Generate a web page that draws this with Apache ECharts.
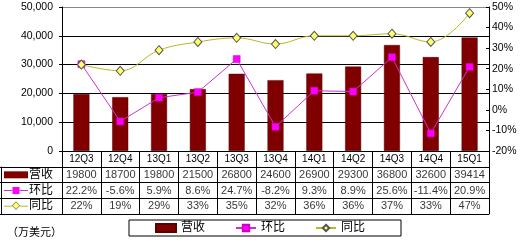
<!DOCTYPE html>
<html><head><meta charset="utf-8">
<script src="https://cdn.jsdelivr.net/npm/echarts@6/dist/echarts.min.js"></script>
<style>html,body{margin:0;padding:0;background:#fff}#c{width:525px;height:241px}</style>
</head><body><div id="c"></div>
<script>
var categories = ['12Q3','12Q4','13Q1','13Q2','13Q3','13Q4','14Q1','14Q2','14Q3','14Q4','15Q1'];
var revenue = [19800,18700,19800,21500,26800,24600,26900,29300,36800,32600,39414];
var qoq = [22.2,-5.6,5.9,8.6,24.7,-8.2,9.3,8.9,25.6,-11.4,20.9];
var yoy = [22,19,29,33,35,32,36,36,37,33,47];
var rowNames = ['营收','环比','同比'];
var leftTicks = [0,10000,20000,30000,40000,50000];

var FF = "'Liberation Sans','Noto Sans CJK SC',sans-serif";
var cells = [];
categories.forEach(function(c,i){
  cells.push({value:[i,'营收'], txt:String(revenue[i])});
  cells.push({value:[i,'环比'], txt:qoq[i].toFixed(1)+'%'});
  cells.push({value:[i,'同比'], txt:yoy[i]+'%'});
});

var chart = echarts.init(document.getElementById('c'), null, {renderer:'canvas'});
chart.setOption({
  animation:false,
  backgroundColor:'#fff',
  title:{text:'（万美元）', left:2, top:222, textStyle:{fontSize:11, fontWeight:'normal', color:'#000', fontFamily:FF}},
  legend:{
    data:[{name:'营收', icon:'rect'},'环比','同比'],
    left:129, top:220, orient:'horizontal',
    padding:[2,36,2,26], itemGap:30, itemWidth:20, itemHeight:8,
    borderColor:'#000', borderWidth:1,
    textStyle:{fontSize:12, color:'#000', fontFamily:FF}
  },
  grid:[
    {left:62, right:36, top:7, height:144},
    {left:62, right:36, top:167, height:47}
  ],
  xAxis:[
    {type:'category', gridIndex:0, data:categories, boundaryGap:true,
     axisLine:{show:true, lineStyle:{color:'#000', width:1}},
     axisTick:{show:true, length:16, inside:false, lineStyle:{color:'#000'}},
     axisLabel:{margin:3, fontSize:10, color:'#000', fontFamily:FF},
     splitLine:{show:false}},
    {type:'category', gridIndex:1, data:categories, boundaryGap:true,
     axisLine:{show:true, lineStyle:{color:'#000'}},
     axisTick:{show:false}, axisLabel:{show:false},
     splitLine:{show:true, lineStyle:{color:'#000', width:1}}}
  ],
  yAxis:[
    {type:'value', gridIndex:0, min:0, max:50000, interval:10000, position:'left',
     axisLine:{show:true, lineStyle:{color:'#000'}},
     axisTick:{show:true, length:3, lineStyle:{color:'#000'}},
     axisLabel:{margin:9, fontSize:10.5, color:'#000', fontFamily:FF},
     splitLine:{show:true, lineStyle:{color:['#000','#000','#000','#000','#000','#888'], width:1}}},
    {type:'value', gridIndex:0, min:-20, max:50, interval:10, position:'right',
     axisLine:{show:true, lineStyle:{color:'#000'}},
     axisTick:{show:true, inside:true, length:3, lineStyle:{color:'#000'}},
     axisLabel:{margin:3, fontSize:10.5, color:'#000', fontFamily:FF, formatter:'{value}%'},
     splitLine:{show:false}},
    {type:'category', gridIndex:1, data:rowNames, inverse:true, position:'left',
     axisLine:{show:true, lineStyle:{color:'#000'}},
     axisTick:{show:true, length:62, lineStyle:{color:'#000'}},
     splitLine:{show:true, lineStyle:{color:'#000', width:1}},
     axisLabel:{margin:9, align:'right', fontFamily:FF,
       formatter:function(v){
         if(v==='营收') return '{bar|}{t|'+v+'}';
         if(v==='环比') return '{ln|}{sq|}{ln|}{t|'+v+'}';
         return '{ln2|}{dm|◆}{ln2|}{t|'+v+'}';
       },
       rich:{
         t:{fontSize:12, color:'#000', fontFamily:FF, verticalAlign:'middle', padding:[0,0,0,1]},
         bar:{width:24, height:7, backgroundColor:'#800000', verticalAlign:'middle'},
         ln:{width:8.5, height:1, backgroundColor:'#CC33CC', verticalAlign:'middle'},
         sq:{width:7, height:7, backgroundColor:'#FF00FF', verticalAlign:'middle'},
         ln2:{width:8, height:1, backgroundColor:'#B8B820', verticalAlign:'middle'},
         dm:{fontSize:7, width:8, align:'center', color:'#FFFF66', textBorderColor:'#444', textBorderWidth:1, verticalAlign:'middle'}
       }}},
    {type:'value', gridIndex:1, position:'left', offset:61,
     axisLine:{show:true, lineStyle:{color:'#000'}},
     axisTick:{show:false}, axisLabel:{show:false}, splitLine:{show:false}}
  ],
  series:[
    {name:'营收', type:'bar', xAxisIndex:0, yAxisIndex:0, data:revenue, barWidth:16,
     itemStyle:{color:'#800000', borderColor:'#5a0000', borderWidth:0.5}},
    {name:'环比', type:'line', xAxisIndex:0, yAxisIndex:1, data:qoq,
     symbol:'rect', symbolSize:7,
     lineStyle:{color:'#CC33CC', width:1},
     itemStyle:{color:'#FF00FF', borderColor:'#CC00CC', borderWidth:0.5}},
    {name:'同比', type:'line', xAxisIndex:0, yAxisIndex:1, data:yoy,
     smooth:0.4, symbol:'diamond', symbolSize:[8,9],
     lineStyle:{color:'#B8B820', width:1},
     itemStyle:{color:'#FFFF66', borderColor:'#555', borderWidth:1}},
    {name:'table', type:'scatter', xAxisIndex:1, yAxisIndex:2, data:cells,
     symbolSize:0, silent:true,
     label:{show:true, position:'inside', color:'#000', fontSize:11, fontFamily:FF,
       formatter:function(p){return p.data.txt;}}}
  ]
});
</script></body></html>
